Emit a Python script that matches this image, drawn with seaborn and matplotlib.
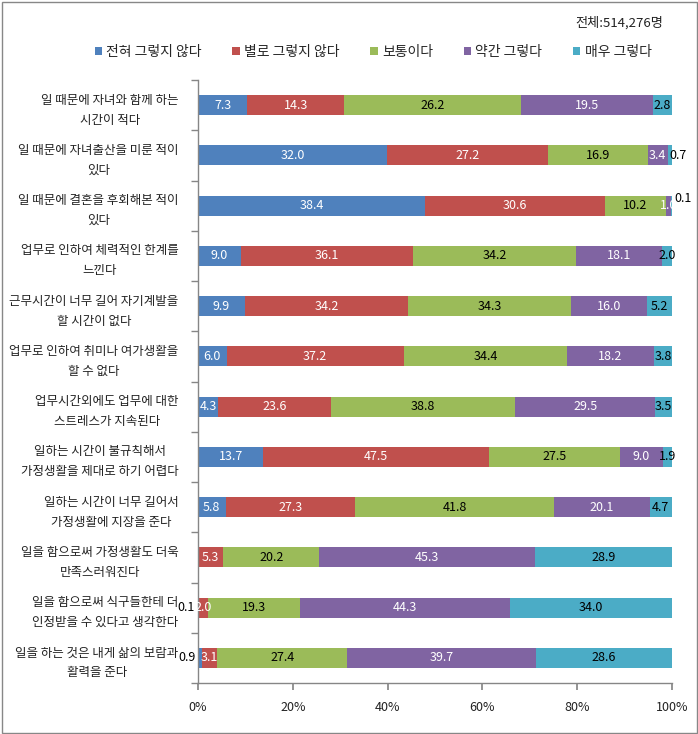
import numpy as np
import pandas as pd
import matplotlib
matplotlib.use("Agg")
import matplotlib.pyplot as plt
from matplotlib.patches import Patch, Rectangle
import seaborn as sns

items = [
    "일 때문에 자녀와 함께 하는\n시간이 적다",
    "일 때문에 자녀출산을 미룬 적이\n있다",
    "일 때문에 결혼을 후회해본 적이\n있다",
    "업무로 인하여 체력적인 한계를\n느낀다",
    "근무시간이 너무 길어 자기계발을\n할 시간이 없다",
    "업무로 인하여 취미나 여가생활을\n할 수 없다",
    "업무시간외에도 업무에 대한\n스트레스가 지속된다",
    "일하는 시간이 불규칙해서\n가정생활을 제대로 하기 어렵다",
    "일하는 시간이 너무 길어서\n가정생활에 지장을 준다",
    "일을 함으로써 가정생활도 더욱\n만족스러워진다",
    "일을 함으로써 식구들한테 더\n인정받을 수 있다고 생각한다",
    "일을 하는 것은 내게 삶의 보람과\n활력을 준다",
]
series_names = ["전혀 그렇지 않다", "별로 그렇지 않다", "보통이다", "약간 그렇다", "매우 그렇다"]
s1 = [7.3, 32.0, 38.4, 9.0, 9.9, 6.0, 4.3, 13.7, 5.8, 0.0, 0.1, 0.9]
s2 = [14.3, 27.2, 30.6, 36.1, 34.2, 37.2, 23.6, 47.5, 27.3, 5.3, 2.0, 3.1]
s3 = [26.2, 16.9, 10.2, 34.2, 34.3, 34.4, 38.8, 27.5, 41.8, 20.2, 19.3, 27.4]
s4 = [19.5, 3.4, 1.0, 18.1, 16.0, 18.2, 29.5, 9.0, 20.1, 45.3, 44.3, 39.7]
s5 = [2.8, 0.7, 0.1, 2.0, 5.2, 3.8, 3.5, 1.9, 4.7, 28.9, 34.0, 28.6]
colors = ["#4F81BD", "#C0504D", "#9BBB59", "#8064A2", "#4BACC6"]
text_colors = ["white", "white", "black", "white", "black"]
total_label = "전체:514,276명"
xticks = [0, 20, 40, 60, 80, 100]

sns.set_theme(style="white")
plt.rcParams["font.family"] = ["Noto Sans CJK KR", "DejaVu Sans"]

raw = np.array([s1, s2, s3, s4, s5])  # shape 5 x n
share = raw / raw.sum(axis=0) * 100
cum = np.cumsum(share, axis=0)

df = pd.DataFrame({"item": items})
for k in range(5):
    df[f"cum{k}"] = cum[k]

fig = plt.figure(figsize=(6.98, 7.34), dpi=100)
ax = fig.add_axes([198/698, 1-683/734, (672-198)/698, (683-80)/734])

for k in range(4, -1, -1):
    sns.barplot(data=df, x=f"cum{k}", y="item", order=items, color=colors[k],
                saturation=1, width=0.4, orient="h", errorbar=None, ax=ax,
                linewidth=0)

ax.set_xlim(0, 100)
ax.set_ylim(11.5, -0.5)
ax.set_xlabel("")
ax.set_ylabel("")

# data labels
n = len(items)
for i in range(n):
    for k in range(5):
        v = raw[k, i]
        if v == 0:
            continue
        left = cum[k, i] - share[k, i]
        cx = left + share[k, i] / 2
        txt = f"{v:.1f}"
        ha = "center"
        color = text_colors[k]
        y = i
        if k == 0 and share[k, i] < 1.0:
            cx = -0.6
            ha = "right"
            color = "black"
        elif k == 4 and share[k, i] < 1.0:
            cx = cum[k, i] - 0.6
            ha = "left"
            color = "black"
            if share[k, i] < 0.3:
                cx = cum[k, i] + 0.6
                y = i - 0.15
        ax.text(cx, y, txt, ha=ha, va="center", fontsize=9, color=color,
                clip_on=False)

gray = "#868686"
for side in ["top", "right"]:
    ax.spines[side].set_visible(False)
for side in ["left", "bottom"]:
    ax.spines[side].set_color(gray)
    ax.spines[side].set_linewidth(1)

ax.set_xticks(xticks)
ax.set_xticklabels([f"{t}%" for t in xticks], fontsize=9, color="#222222")
ax.tick_params(axis="x", direction="out", length=5, color=gray, pad=8, bottom=True)
ax.set_yticks(range(n))
ax.set_yticklabels(items, fontsize=9, color="#222222", multialignment="center",
                   linespacing=1.7)
ax.set_yticks(np.arange(-0.5, n, 1), minor=True)
ax.tick_params(axis="y", which="major", length=0, pad=14, left=False)
ax.tick_params(axis="y", which="minor", length=5, direction="out", color=gray, left=True)
ax.grid(False)

handles = [Patch(facecolor=c, edgecolor="none", label=l) for c, l in zip(colors, series_names)]
fig.legend(handles=handles, loc="center", bbox_to_anchor=(373/698, 1-52/734), ncol=5,
           frameon=False, fontsize=10, handlelength=0.55, handleheight=0.55,
           handletextpad=0.3, columnspacing=2.2)
fig.text(575/698, 1-23/734, total_label, fontsize=9.5, ha="left", va="center", color="#222222")

fig.patches.append(Rectangle((1.5/698, 1.5/734), 1-3/698, 1-3/734, transform=fig.transFigure,
                             fill=False, edgecolor="#878787", linewidth=1))

fig.savefig("out.png", dpi=100)
